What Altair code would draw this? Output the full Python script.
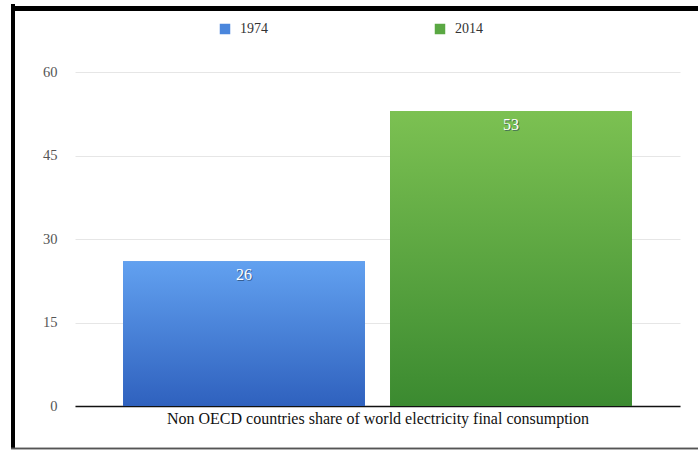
import altair as alt
import pandas as pd

years = ["1974", "2014"]
values = [26, 53]
category = "Non OECD countries share of world electricity final consumption"
solid_colors = ["#4a86dc", "#5aa843"]
grad_top = ["#62a1f0", "#7cc152"]
grad_bottom = ["#2f61be", "#3b8a30"]

df = pd.DataFrame({"year": years, "value": values, "cat": [category] * 2})

FONT = "'Liberation Serif', 'Times New Roman', Times, serif"

x_enc = alt.X("year:N", scale=alt.Scale(paddingInner=0.094, paddingOuter=0.18),
              axis=alt.Axis(labels=False, ticks=False, grid=False, domain=True,
                            domainColor="#111111", domainWidth=1.5, title=category,
                            titleFont=FONT, titleFontSize=16, titleFontWeight="normal",
                            titleColor="#111111", titlePadding=4))
y_enc = alt.Y("value:Q", scale=alt.Scale(domain=[0, 60]),
              axis=alt.Axis(values=[0, 15, 30, 45, 60], title=None, domain=False, ticks=False,
                            labelFont=FONT, labelFontSize=14.5, labelColor="#555555",
                            labelPadding=18, gridColor="#e6e6e6"))

base = alt.Chart(df)

solid = base.mark_bar().encode(
    x=x_enc, y=y_enc,
    color=alt.Color("year:N", scale=alt.Scale(domain=years, range=solid_colors),
                    legend=alt.Legend(title=None, orient="none", legendX=143, legendY=-50,
                                      direction="horizontal", columns=2, columnPadding=165,
                                      symbolType="square", symbolSize=110, symbolStrokeWidth=0,
                                      labelFont=FONT, labelFontSize=14, labelColor="#333333",
                                      labelOffset=8)),
)

grad_layers = []
for i, yr in enumerate(years):
    grad_layers.append(
        base.transform_filter(alt.datum.year == yr).mark_bar(
            color=alt.Gradient(gradient="linear", x1=0, y1=0, x2=0, y2=1,
                               stops=[alt.GradientStop(color=grad_top[i], offset=0),
                                      alt.GradientStop(color=grad_bottom[i], offset=1)])
        ).encode(x="year:N", y="value:Q")
    )

shadow = base.mark_text(baseline="top", dy=7, dx=1, font=FONT, fontSize=16,
                        color="#1f3a5a", opacity=0.6).encode(
    x="year:N", y="value:Q", text="value:Q")
labels = base.mark_text(baseline="top", dy=6, font=FONT, fontSize=16, color="#ffffff").encode(
    x="year:N", y="value:Q", text="value:Q")

frame_left = alt.Chart(df).mark_rule(color="#000000", strokeWidth=4).encode(
    x=alt.value(-62), y=alt.value(-68), y2=alt.value(377))
frame_top = alt.Chart(df).mark_rule(color="#000000", strokeWidth=5).encode(
    x=alt.value(-64), x2=alt.value(630), y=alt.value(-63.5))
frame_bottom = alt.Chart(df).mark_rule(color="#555555", strokeWidth=1.5).encode(
    x=alt.value(-64), x2=alt.value(630), y=alt.value(376.5))

chart = alt.layer(solid, *grad_layers, shadow, labels, frame_left, frame_top, frame_bottom).properties(
    width=605, height=334,
    autosize=alt.AutoSizeParams(type="none"),
    padding={"left": 75, "top": 72, "right": 18, "bottom": 45},
    background="#ffffff",
).configure_view(stroke=None)

chart.save("out.html", embed_options={"renderer": "svg", "actions": False})
